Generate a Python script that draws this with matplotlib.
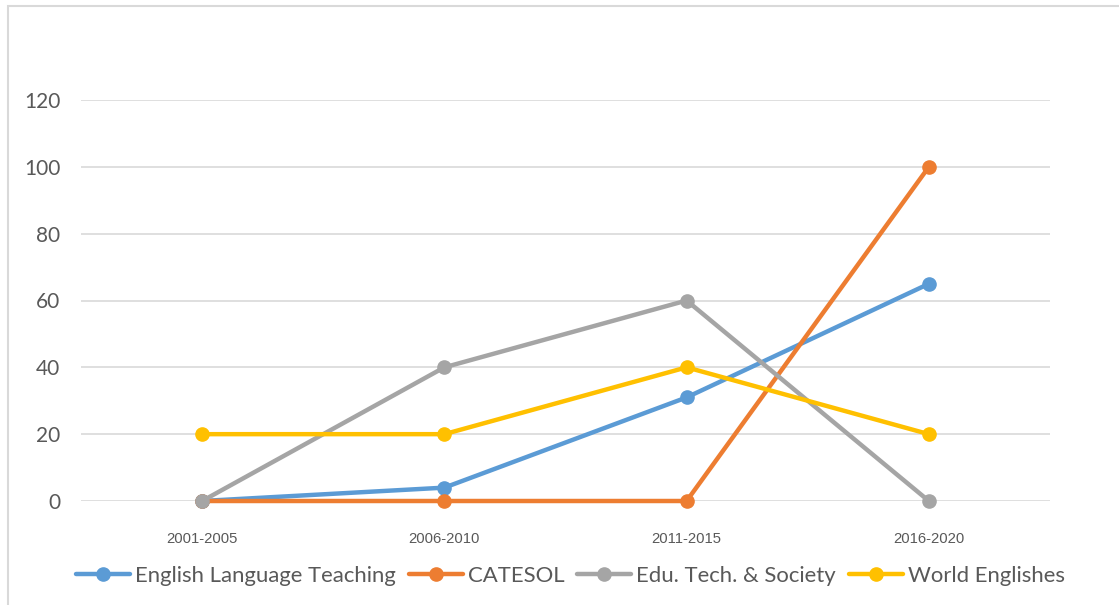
import matplotlib.pyplot as plt
from matplotlib.patches import Rectangle

periods = ['2001-2005', '2006-2010', '2011-2015', '2016-2020']
elt = [0, 4, 31, 65]
catesol = [0, 0, 0, 100]
edu_tech = [0, 40, 60, 0]
world_englishes = [20, 20, 40, 20]

series = [
    ('English Language Teaching', elt, '#5B9BD5'),
    ('CATESOL', catesol, '#ED7D31'),
    ('Edu. Tech. & Society', edu_tech, '#A5A5A5'),
    ('World Englishes', world_englishes, '#FFC000'),
]

fig = plt.figure(figsize=(11.19, 6.05), dpi=100)
# cornice del grafico (visibili solo lato sinistro e superiore)
fig.patches.append(Rectangle((8 / 1119, -0.1), 1.2, 1 - 6 / 605 + 0.1,
                             transform=fig.transFigure, fill=False,
                             edgecolor='#D9D9D9', linewidth=1.5))
ax = fig.add_axes([81 / 1119, 1 - 501 / 605, 969 / 1119, 401 / 605])

x = list(range(len(periods)))
for name, vals, col in series:
    ax.plot(x, vals, color=col, linewidth=3.2, marker='o', markersize=9.5,
            label=name, solid_capstyle='round', clip_on=False)

ax.set_xlim(-0.5, len(periods) - 0.5)
ax.set_ylim(0, 120)
ax.set_yticks(range(0, 121, 20))
ax.set_xticks(x)
ax.set_xticklabels(periods, fontsize=10.7, color='#595959', family='Liberation Sans')
for lab in ax.get_yticklabels():
    lab.set_fontsize(15)
    lab.set_color('#595959')
    lab.set_family('Lato')
ax.tick_params(axis='both', length=0)
ax.tick_params(axis='x', pad=22)
ax.tick_params(axis='y', pad=15)
ax.grid(axis='y', color='#D9D9D9', linewidth=1.2)
ax.set_axisbelow(True)
for s in ax.spines.values():
    s.set_visible(False)

leg = fig.legend(loc='center', bbox_to_anchor=(0.5098, 1 - 576 / 605), ncol=4,
                 frameon=False, prop={'family': 'Lato', 'size': 15.9},
                 handlelength=2.44, handletextpad=0.23, columnspacing=0.6)
for t in leg.get_texts():
    t.set_color('#595959')

fig.savefig('out.png', dpi=100)
